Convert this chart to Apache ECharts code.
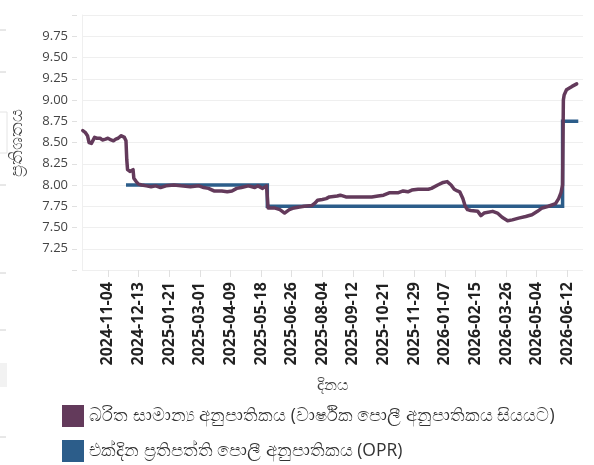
<!DOCTYPE html>
<html>
<head>
<meta charset="utf-8">
<script src="https://cdn.jsdelivr.net/npm/echarts@6/dist/echarts.min.js"></script>
<style>
html,body{margin:0;padding:0;background:#fff;}
#chart{width:594px;height:465px;}
</style>
</head>
<body>
<div id="chart"></div>
<script>
// Weighted average rate (maroon)
const rateDates = [
 '2024-10-03','2024-10-06','2024-10-09','2024-10-11','2024-10-14','2024-10-16','2024-10-18','2024-10-21','2024-10-25','2024-10-28',
 '2024-11-01','2024-11-04','2024-11-08','2024-11-11','2024-11-14','2024-11-17','2024-11-21','2024-11-25','2024-11-27','2024-11-28',
 '2024-11-29','2024-12-02','2024-12-06','2024-12-07','2024-12-10','2024-12-13','2024-12-17','2024-12-23','2024-12-29','2025-01-04',
 '2025-01-10','2025-01-17','2025-01-27','2025-02-05','2025-02-17','2025-02-28','2025-03-06','2025-03-12','2025-03-19','2025-03-29',
 '2025-04-05','2025-04-11','2025-04-17','2025-04-23','2025-05-02','2025-05-10','2025-05-14','2025-05-20','2025-05-25','2025-05-26',
 '2025-05-27','2025-06-04','2025-06-11','2025-06-17','2025-06-23','2025-06-29','2025-07-06','2025-07-12','2025-07-22','2025-07-26',
 '2025-07-29','2025-08-04','2025-08-09','2025-08-13','2025-08-23','2025-08-27','2025-09-03','2025-09-15','2025-09-26','2025-10-06',
 '2025-10-14','2025-10-21','2025-10-29','2025-11-09','2025-11-15','2025-11-21','2025-11-26','2025-12-04','2025-12-17','2025-12-21',
 '2025-12-29','2026-01-05','2026-01-10','2026-01-15','2026-01-19','2026-01-23','2026-01-26','2026-01-30','2026-02-02','2026-02-05',
 '2026-02-09','2026-02-18','2026-02-22','2026-02-26','2026-03-09','2026-03-15','2026-03-21','2026-03-28','2026-04-03','2026-04-11',
 '2026-04-20','2026-04-28','2026-05-05','2026-05-11','2026-05-19','2026-05-28','2026-06-01','2026-06-04','2026-06-06','2026-06-07',
 '2026-06-08','2026-06-11','2026-06-18','2026-06-24'
];
const rateValues = [
 8.64,8.62,8.58,8.50,8.49,8.50,8.56,8.55,8.55,8.53,
 8.54,8.55,8.53,8.52,8.54,8.55,8.58,8.56,8.52,8.30,
 8.18,8.16,8.18,8.08,8.04,8.01,8.00,7.99,7.98,7.99,
 7.97,7.99,8.00,7.99,7.98,7.99,7.97,7.96,7.93,7.93,
 7.92,7.93,7.96,7.97,7.99,7.97,7.99,7.96,7.99,7.98,
 7.73,7.73,7.71,7.67,7.71,7.73,7.74,7.75,7.76,7.79,
 7.82,7.83,7.84,7.86,7.87,7.88,7.86,7.86,7.86,7.86,
 7.87,7.88,7.91,7.91,7.93,7.92,7.94,7.95,7.95,7.96,
 8.00,8.03,8.04,8.00,7.95,7.93,7.92,7.84,7.75,7.71,
 7.70,7.69,7.64,7.67,7.69,7.67,7.62,7.58,7.59,7.61,
 7.63,7.65,7.69,7.73,7.75,7.78,7.84,7.91,8.00,9.00,
 9.06,9.12,9.16,9.19
];
// Overnight policy rate (blue)
const oprDates = ['2024-11-27','2025-05-26','2025-05-26','2026-06-06','2026-06-06','2026-06-26'];
const oprValues = [8.00,8.00,7.75,7.75,8.75,8.75];

const tickLabels = ['2024-11-04','2024-12-13','2025-01-21','2025-03-01','2025-04-09','2025-05-18','2025-06-26','2025-08-04',
 '2025-09-12','2025-10-21','2025-11-29','2026-01-07','2026-02-15','2026-03-26','2026-05-04','2026-06-12'];

const seriesNames = ['බරිත සාමාන්‍ය අනුපාතිකය (වාර්ෂික පොලී අනුපාතිකය සියයට)', 'එක්දින ප්‍රතිපත්ති පොලී අනුපාතිකය (OPR)'];
const xTitle = 'දිනය';
const yTitle = 'ප්‍රතිශතය';

// dates -> day number (UTC based, exact integers)
function dn(s){ const p = s.split('-').map(Number); return Math.round(Date.UTC(p[0], p[1]-1, p[2]) / 86400000); }
function fmt(v){ const d = new Date(Math.round(v) * 86400000); const m = d.getUTCMonth()+1, dd = d.getUTCDate();
  return d.getUTCFullYear() + '-' + (m<10?'0':'') + m + '-' + (dd<10?'0':'') + dd; }

const FONT = "'Open Sans', 'Noto Sans', 'DejaVu Sans', sans-serif";
const tickDays = tickLabels.map(dn);

const chart = echarts.init(document.getElementById('chart'), null, {renderer:'canvas'});
const leftArtifacts = [30,72,185,273,330,437].map(y => ({
  type:'line', shape:{x1:0,y1:y,x2:6,y2:y}, style:{stroke:'#d0d0d0', lineWidth:1}, silent:true
}));
chart.setOption({
  animation:false,
  backgroundColor:'#fff',
  textStyle:{fontFamily:FONT},
  graphic: leftArtifacts.concat([
    {type:'rect', shape:{x:-1,y:112,width:8,height:41}, style:{fill:'none', stroke:'#e4e4e4', lineWidth:1}, silent:true},
    {type:'rect', shape:{x:0,y:363,width:7,height:24}, style:{fill:'#f2f2f2'}, silent:true}
  ]),
  grid:{left:77, right:11, top:15, bottom:195, containLabel:false},
  legend:{
    orient:'vertical', left:62, top:405, padding:0, itemWidth:22, itemHeight:22, itemGap:13, icon:'rect',
    textStyle:{fontSize:17.5, color:'#333', fontFamily:FONT},
    data: seriesNames
  },
  xAxis:{
    type:'value', min: dn('2024-10-02'), max: dn('2026-07-02'),
    name: xTitle, nameLocation:'middle', nameGap:107,
    nameTextStyle:{fontSize:16, color:'#444', fontFamily:FONT},
    axisLine:{show:false},
    axisTick:{show:true, length:7, lineStyle:{color:'#e0e0e0'}, customValues: tickDays},
    axisLabel:{rotate:90, fontSize:16, fontWeight:'bold', color:'#222', margin:12, customValues: tickDays,
      formatter: v => fmt(v), fontFamily:FONT},
    splitLine:{show:false}
  },
  yAxis:[{
    type:'value', min:7, max:10, interval:0.25, offset:5,
    name: yTitle, nameLocation:'middle', nameGap:51, nameRotate:90,
    nameTextStyle:{fontSize:18, color:'#444', fontFamily:FONT},
    axisLine:{show:false},
    axisTick:{show:true, length:5, lineStyle:{color:'#e0e0e0'}},
    axisLabel:{fontSize:13, color:'#444', margin:9, fontFamily:FONT,
      formatter: v => (v <= 7.001 || v >= 9.999) ? '' : v.toFixed(2)},
    splitLine:{show:true, lineStyle:{color:'#efefef', width:1}}
  },{
    type:'value', min:7, max:10, position:'left',
    axisLine:{show:true, lineStyle:{color:'#efefef'}},
    axisTick:{show:false}, axisLabel:{show:false}, splitLine:{show:false}
  }],
  series:[{
    name: seriesNames[0], type:'line', z:3, showSymbol:false, symbol:'none',
    lineStyle:{width:3.5, color:'#633a5b', cap:'round', join:'round'},
    itemStyle:{color:'#633a5b'},
    data: rateDates.map((d,i)=>[dn(d), rateValues[i]])
  },{
    name: seriesNames[1], type:'line', z:2, showSymbol:false, symbol:'none',
    lineStyle:{width:3.5, color:'#2c5d8a', join:'miter'},
    itemStyle:{color:'#2c5d8a'},
    data: oprDates.map((d,i)=>[dn(d), oprValues[i]])
  }]
});
</script>
</body>
</html>
